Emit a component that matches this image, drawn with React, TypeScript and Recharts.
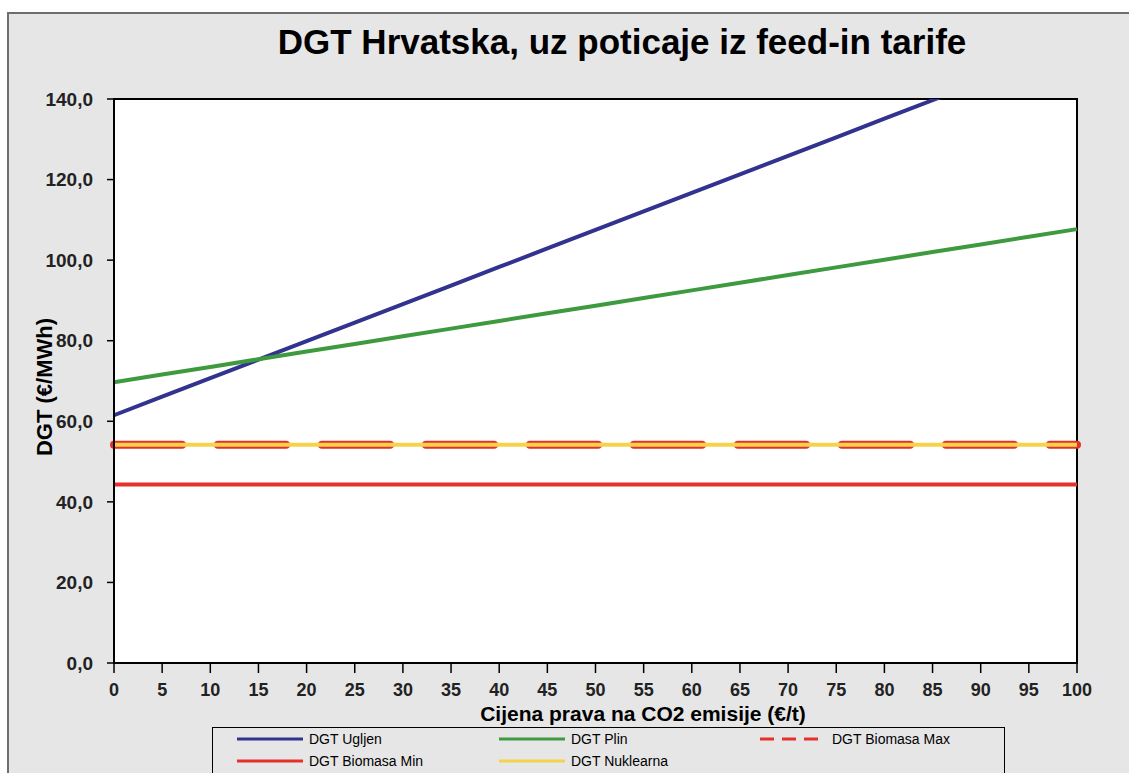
import { LineChart, Line, XAxis, YAxis, ReferenceArea, Label } from 'recharts';

const co2Prices = [0, 5, 10, 15, 20, 25, 30, 35, 40, 45, 50, 55, 60, 65, 70, 75, 80, 85, 90, 95, 100];
const ugljen = [61.5, 66.1, 70.7, 75.3, 79.9, 84.5, 89.1, 93.7, 98.3, 102.9, 107.5, 112.1, 116.7, 121.3, 125.9, 130.5, 135.1, 139.7, 144.3, 148.9, 153.5];
const plin = [69.7, 71.6, 73.5, 75.4, 77.3, 79.2, 81.1, 83.0, 84.9, 86.8, 88.7, 90.6, 92.5, 94.4, 96.3, 98.2, 100.1, 102.0, 103.9, 105.8, 107.7];
const biomasaMax = [54.2, 54.2, 54.2, 54.2, 54.2, 54.2, 54.2, 54.2, 54.2, 54.2, 54.2, 54.2, 54.2, 54.2, 54.2, 54.2, 54.2, 54.2, 54.2, 54.2, 54.2];
const biomasaMin = [44.3, 44.3, 44.3, 44.3, 44.3, 44.3, 44.3, 44.3, 44.3, 44.3, 44.3, 44.3, 44.3, 44.3, 44.3, 44.3, 44.3, 44.3, 44.3, 44.3, 44.3];
const nuklearna = [54.2, 54.2, 54.2, 54.2, 54.2, 54.2, 54.2, 54.2, 54.2, 54.2, 54.2, 54.2, 54.2, 54.2, 54.2, 54.2, 54.2, 54.2, 54.2, 54.2, 54.2];
const yTicks = [0, 20, 40, 60, 80, 100, 120, 140];

const BLUE = '#32338f';
const GREEN = '#3d9a3f';
const RED = '#e4322b';
const YELLOW = '#f5d24a';
const BG = '#e6e6e7';
const FONT = '"Liberation Sans", Arial, sans-serif';

const data = co2Prices.map((x, i) => ({
  x,
  ugljen: ugljen[i],
  plin: plin[i],
  biomasaMax: biomasaMax[i],
  biomasaMin: biomasaMin[i],
  nuklearna: nuklearna[i],
}));

const legendItems = [
  { name: 'DGT Ugljen', color: BLUE, dash: false, left: 237, top: 739 },
  { name: 'DGT Plin', color: GREEN, dash: false, left: 499, top: 739 },
  { name: 'DGT Biomasa Max', color: RED, dash: true, left: 760, top: 739 },
  { name: 'DGT Biomasa Min', color: RED, dash: false, left: 237, top: 761 },
  { name: 'DGT Nuklearna', color: YELLOW, dash: false, left: 499, top: 761 },
];

const fmt = (v: number) => v.toFixed(1).replace('.', ',');

export default function App() {
  return (
    <div style={{ position: 'absolute', left: 0, top: 0, width: 1129, height: 773, overflow: 'hidden', background: '#fff', fontFamily: FONT }}>
      <div style={{ position: 'absolute', left: 7, top: 12, width: 1130, height: 770, background: BG, borderTop: '2px solid #6e6e6e', borderLeft: '2px solid #6e6e6e' }} />
      <div style={{ position: 'absolute', left: 0, top: 22, width: 1244, textAlign: 'center', fontSize: 35, fontWeight: 'bold', color: '#000' }}>
        DGT Hrvatska, uz poticaje iz feed-in tarife
      </div>
      <div style={{ position: 'absolute', left: 0, top: 0 }}>
        <LineChart width={1129} height={773} data={data} margin={{ top: 99, right: 52, left: 54, bottom: 80 }}>
          <ReferenceArea x1={0} x2={100} y1={0} y2={140} fill="#ffffff" fillOpacity={1} stroke="#000" strokeWidth={2} ifOverflow="visible" />
          <XAxis
            dataKey="x"
            type="number"
            domain={[0, 100]}
            ticks={co2Prices}
            height={30}
            tickSize={10}
            tickMargin={10}
            axisLine={{ stroke: '#000', strokeWidth: 2 }}
            tickLine={{ stroke: '#000', strokeWidth: 1.5 }}
            tick={{ fill: '#222', fontSize: 18, fontWeight: 'bold', fontFamily: FONT }}
            interval={0}
          >
            <Label
              content={() => (
                <text x={643} y={713} textAnchor="middle" dominantBaseline="central" fontSize={21} fontWeight="bold" fontFamily={FONT} fill="#000">
                  Cijena prava na CO2 emisije (€/t)
                </text>
              )}
            />
          </XAxis>
          <YAxis
            type="number"
            domain={[0, 140]}
            ticks={yTicks}
            allowDataOverflow
            width={60}
            tickSize={7}
            tickMargin={14}
            tickFormatter={fmt}
            axisLine={{ stroke: '#000', strokeWidth: 2 }}
            tickLine={{ stroke: '#000', strokeWidth: 1.5 }}
            tick={{ fill: '#222', fontSize: 19, fontWeight: 'bold', fontFamily: FONT }}
            interval={0}
          >
            <Label
              content={() => (
                <text transform="translate(44,387) rotate(-90)" textAnchor="middle" dominantBaseline="central" fontSize={22} fontWeight="bold" fontFamily={FONT} fill="#000">
                  DGT (€/MWh)
                </text>
              )}
            />
          </YAxis>
          <Line type="linear" dataKey="ugljen" name="DGT Ugljen" stroke={BLUE} strokeWidth={4} dot={false} isAnimationActive={false} />
          <Line type="linear" dataKey="plin" name="DGT Plin" stroke={GREEN} strokeWidth={4} dot={false} isAnimationActive={false} />
          <Line type="linear" dataKey="biomasaMax" name="DGT Biomasa Max" stroke={RED} strokeWidth={8} strokeDasharray="68 36" strokeLinecap="round" dot={false} isAnimationActive={false} />
          <Line type="linear" dataKey="biomasaMin" name="DGT Biomasa Min" stroke={RED} strokeWidth={4} dot={false} isAnimationActive={false} />
          <Line type="linear" dataKey="nuklearna" name="DGT Nuklearna" stroke={YELLOW} strokeWidth={4} dot={false} isAnimationActive={false} />
        </LineChart>
      </div>
      <div style={{ position: 'absolute', left: 212, top: 727, width: 791, height: 60, border: '1.5px solid #000', background: BG }} />
      {legendItems.map((it) => (
        <div key={it.name} style={{ position: 'absolute', left: it.left, top: it.top - 9, height: 18, display: 'flex', alignItems: 'center', fontSize: 14, color: '#000', whiteSpace: 'nowrap' }}>
          <svg width={66} height={6} style={{ marginRight: 6 }}>
            <line x1={0} y1={3} x2={66} y2={3} stroke={it.color} strokeWidth={3} strokeDasharray={it.dash ? '14 8' : undefined} />
          </svg>
          {it.name}
        </div>
      ))}
    </div>
  );
}
